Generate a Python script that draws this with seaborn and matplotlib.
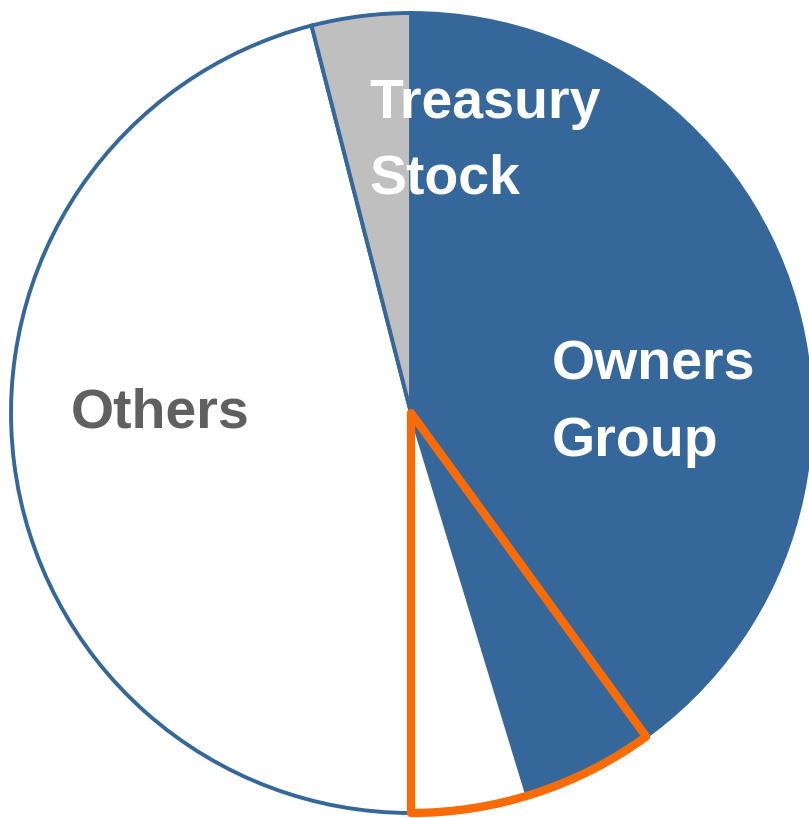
import matplotlib.pyplot as plt
import seaborn as sns

labels = ["Owners Group", "", "Others", "Treasury Stock"]
shares = [45.3, 4.7, 46.0, 4.0]
slice_colors = ["#35679A", "#FFFFFF", "#FFFFFF", "#BFBFBF"]
text_colors = ["#FFFFFF", "#FFFFFF", "#606060", "#FFFFFF"]

# highlighted part (orange outline) and where it starts, in % clockwise from top
highlight_start = 40.0
highlight_share = 10.0

# label anchors in pixels (left edge, first baseline)
label_pos = {"Owners Group": (552, 380), "Others": (71, 427), "Treasury Stock": (369, 118)}

sns.set_theme(style="white")
plt.rcParams["font.family"] = ["Liberation Sans", "DejaVu Sans"]

W, H = 809, 818
cx, cy, R = 411, 413, 400

fig = plt.figure(figsize=(W / 100, H / 100), dpi=100)
ax = fig.add_axes([0, 0, 1, 1])

ax.pie(shares, colors=slice_colors, startangle=90, counterclock=False,
       radius=1.0, center=(0, 0),
       wedgeprops=dict(edgecolor="#35679A", linewidth=2.8, joinstyle="miter"))

hl, _ = ax.pie([highlight_share, 100 - highlight_share],
               startangle=90 - highlight_start * 3.6, counterclock=False,
               radius=1.0, center=(0, 0),
               wedgeprops=dict(facecolor="none", edgecolor="#F96B07",
                               linewidth=6, joinstyle="round"))
hl[1].set_visible(False)

def to_data(px, py):
    return (px - cx) / R, (cy - py) / R

line_gap = 76
for lab, col in zip(labels, text_colors):
    if not lab:
        continue
    px, py = label_pos[lab]
    words = lab.split(" ")
    for i, w in enumerate(words):
        x, y = to_data(px, py + i * line_gap)
        ax.text(x, y, w, color=col, fontsize=40, fontweight="bold",
                ha="left", va="baseline")

ax.set_xlim(-cx / R, (W - cx) / R)
ax.set_ylim(-(H - cy) / R, cy / R)
ax.set_aspect("equal")
ax.axis("off")

fig.savefig("out.png", dpi=100, facecolor="white")
